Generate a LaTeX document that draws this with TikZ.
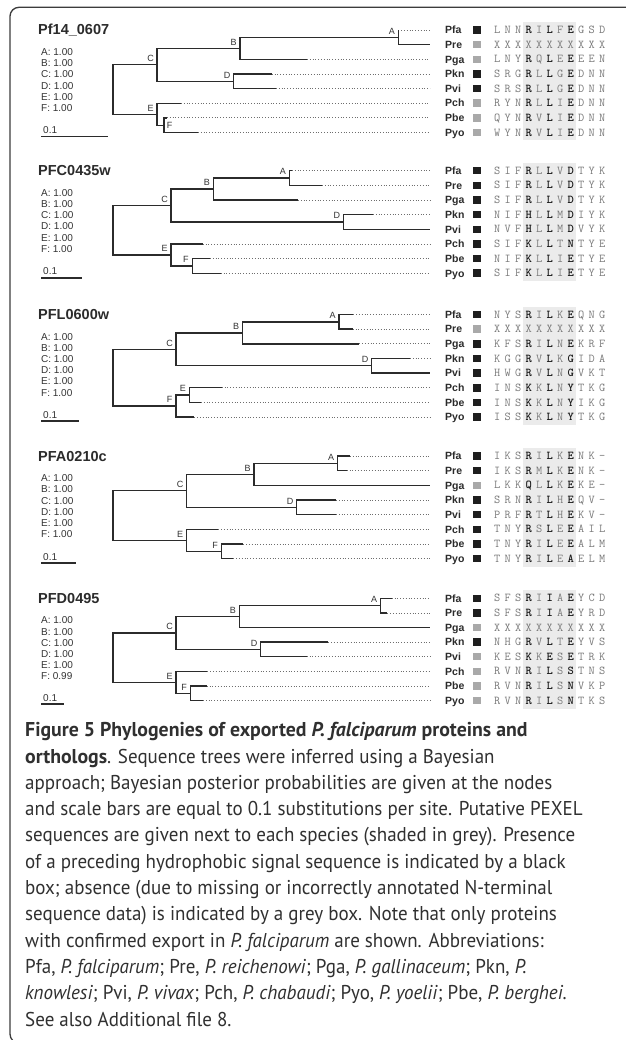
\documentclass[tikz,border=0pt]{standalone}
\usepackage{fontspec}
\newfontfamily\arialf{Liberation Sans}
\newfontfamily\capfont{PT Sans}[FakeStretch=0.95]
\newfontfamily\capfontb{PT Sans}[FakeStretch=0.99]
\definecolor{treec}{HTML}{2B2B2B}
\definecolor{dotc}{HTML}{6E6E6E}
\definecolor{labc}{HTML}{333333}
\definecolor{boxk}{HTML}{1E1E1E}
\definecolor{boxg}{HTML}{A9A9A9}
\definecolor{shadec}{HTML}{EBEBEB}
\definecolor{seqg}{HTML}{7A7A7A}
\definecolor{seqk}{HTML}{1A1A1A}
\definecolor{capc}{HTML}{303030}
\definecolor{framec}{HTML}{3C3C3C}
\tikzset{
 branch/.style={draw=treec, line width=1.4pt},
 dotl/.style={draw=dotc, line width=0.8pt, dash pattern=on 0.9pt off 1.9pt},
 clab/.style={font=\arialf\fontsize{9}{10}\selectfont, text=labc, inner sep=0pt},
 ttl/.style={font=\arialf\bfseries\fontsize{14.5}{16}\selectfont, text=treec, anchor=base west, inner sep=0pt},
 stat/.style={font=\arialf\fontsize{10}{12}\selectfont, text=labc, anchor=base west, inner sep=0pt},
 leafn/.style={font=\arialf\bfseries\fontsize{10.5}{12}\selectfont, text=treec, anchor=base west, inner sep=0pt},
 sigbox/.style={rectangle, minimum size=7.5pt, inner sep=0pt, draw=none},
 seqn/.style={font=\ttfamily\fontsize{12}{14}\selectfont, text=seqg, anchor=base, inner sep=0pt},
 seqb/.style={font=\ttfamily\bfseries\fontsize{12}{14}\selectfont, text=seqk, anchor=base, inner sep=0pt},
 scaleb/.style={draw=treec, line width=1.3pt},
 capl/.style={font=\capfont\fontsize{20}{24}\selectfont, text=capc, anchor=base west, inner sep=0pt},
 framel/.style={draw=framec, line width=1.3pt, rounded corners=9pt},
}
\newcommand\tbr[2]{\draw[branch] (#1) |- (#2);}
\newcommand\tdot[1]{\draw[dotl] (#1) -- (#1 -| xend);}
\newcommand\tlab[2]{\node[clab] (#1l) at ([shift={(-6.5,-6.2)}]#1) {#2};}
\newcommand\statblock[3]{%
 \node[stat] (#1s1) at (41,#2) {A: 1.00};
 \node[stat] (#1s2) at (41,#2+11.2) {B: 1.00};
 \node[stat] (#1s3) at (41,#2+22.4) {C: 1.00};
 \node[stat] (#1s4) at (41,#2+33.6) {D: 1.00};
 \node[stat] (#1s5) at (41,#2+44.8) {E: 1.00};
 \node[stat] (#1s6) at (41,#2+56) {F: #3};
}
\newcommand\seqrow[6]{%
 \node[leafn] (#1n) at (445,#2+3.75) {#3};
 \node[sigbox, fill=#4] (#1b) at (477.2,#2) {};
 \foreach \ch [count=\ii from 0] in {#5} {%
   \def\isb{0}%
   \ifnum#6=1 \ifodd\ii \ifnum\ii>2 \ifnum\ii<8 \def\isb{1}\fi\fi\fi\fi
   \ifnum\isb=1
     \node[seqb] (#1s\ii) at ({497.3+10.5*\ii},#2+3.65) {\ch};
   \else
     \node[seqn] (#1s\ii) at ({497.3+10.5*\ii},#2+3.65) {\ch};
   \fi
 }%
}
\begin{document}
\begin{tikzpicture}[x=1pt,y=-1pt]
\useasboundingbox (0,0) rectangle (625,1040);
\fill[white] (0,0) rectangle (625,1040);
\draw[framel] (640,7.3) -- (10,7.3) -- (10,1043) -- (640,1043);
\coordinate (xend) at (430,0);
% ================= panel 1
\node[ttl] (aTitle) at (38,35) {Pf14\_0607};
\statblock{a}{55.6}{1.00}
\node[stat] (aScl) at (43,133.5) {0.1};
\coordinate (aSb0) at (41,136.5); \coordinate (aSb1) at (108,136.5);
\draw[scaleb] (aSb0) -- (aSb1);
\fill[shadec] (523.3,22) rectangle (576.3,140.5);
\coordinate (aT1) at (398.3,30);
\coordinate (aT2) at (430,44.65);
\coordinate (aT3) at (307,59.3);
\coordinate (aT4) at (271.7,73.95);
\coordinate (aT5) at (276,88.6);
\coordinate (aT6) at (181,103.25);
\coordinate (aT7) at (167,117.9);
\coordinate (aT8) at (198,132.55);
\coordinate (aA) at (398.3,37.33);
\coordinate (aB) at (240,48.31);
\coordinate (aD) at (233.7,81.28);
\coordinate (aC) at (157,64.79);
\coordinate (aF) at (164,125.23);
\coordinate (aE) at (157,114.24);
\coordinate (aR) at (113,89.51);
\tdot{aT1}\tdot{aT3}\tdot{aT4}\tdot{aT5}\tdot{aT6}\tdot{aT7}\tdot{aT8}
\tbr{aR}{aC}\tbr{aR}{aE}\tbr{aC}{aB}\tbr{aC}{aD}\tbr{aB}{aA}\tbr{aB}{aT3}
\tbr{aA}{aT1}\tbr{aA}{aT2}\tbr{aD}{aT4}\tbr{aD}{aT5}\tbr{aE}{aT6}\tbr{aE}{aF}
\tbr{aF}{aT7}\tbr{aF}{aT8}
\tlab{aA}{A}\tlab{aB}{B}\tlab{aC}{C}\tlab{aD}{D}\tlab{aE}{E}
\node[clab] (aFl) at ([shift={(5.5,0)}]aF) {F};
\seqrow{a1}{30}{Pfa}{boxk}{L,N,N,R,I,L,F,E,G,S,D}{1}
\seqrow{a2}{44.65}{Pre}{boxg}{X,X,X,X,X,X,X,X,X,X,X}{0}
\seqrow{a3}{59.3}{Pga}{boxg}{L,N,Y,R,Q,L,E,E,E,E,N}{1}
\seqrow{a4}{73.95}{Pkn}{boxk}{S,R,G,R,L,L,G,E,D,N,N}{1}
\seqrow{a5}{88.6}{Pvi}{boxk}{S,R,S,R,L,L,G,E,D,N,N}{1}
\seqrow{a6}{103.25}{Pch}{boxg}{R,Y,N,R,L,L,I,E,D,N,N}{1}
\seqrow{a7}{117.9}{Pbe}{boxg}{Q,Y,N,R,V,L,I,E,D,N,N}{1}
\seqrow{a8}{132.55}{Pyo}{boxg}{W,Y,N,R,V,L,I,E,D,N,N}{1}
% ================= panel 2
\node[ttl] (bTitle) at (38,175.7) {PFC0435w};
\statblock{b}{196.3}{1.00}
\node[stat] (bScl) at (43,275) {0.1};
\coordinate (bSb0) at (41,278); \coordinate (bSb1) at (82,278);
\draw[scaleb] (bSb0) -- (bSb1);
\fill[shadec] (523.3,162.7) rectangle (576.3,281.25);
\coordinate (bT1) at (292,170.7);
\coordinate (bT2) at (322,185.35);
\coordinate (bT3) at (298,200);
\coordinate (bT4) at (373,214.65);
\coordinate (bT5) at (430,229.3);
\coordinate (bT6) at (202.7,243.95);
\coordinate (bT7) at (210,258.6);
\coordinate (bT8) at (220.7,273.25);
\coordinate (bA) at (289.3,178.03);
\coordinate (bB) at (213.3,189.01);
\coordinate (bD) at (343.3,221.98);
\coordinate (bC) at (171,205.49);
\coordinate (bF) at (192.3,265.93);
\coordinate (bE) at (171,254.94);
\coordinate (bR) at (113,230.22);
\tdot{bT1}\tdot{bT2}\tdot{bT3}\tdot{bT4}\tdot{bT6}\tdot{bT7}\tdot{bT8}
\tbr{bR}{bC}\tbr{bR}{bE}\tbr{bC}{bB}\tbr{bC}{bD}\tbr{bB}{bA}\tbr{bB}{bT3}
\tbr{bA}{bT1}\tbr{bA}{bT2}\tbr{bD}{bT4}\tbr{bD}{bT5}\tbr{bE}{bT6}\tbr{bE}{bF}
\tbr{bF}{bT7}\tbr{bF}{bT8}
\tlab{bA}{A}\tlab{bB}{B}\tlab{bC}{C}\tlab{bD}{D}\tlab{bE}{E}\tlab{bF}{F}
\seqrow{b1}{170.7}{Pfa}{boxk}{S,I,F,R,L,L,V,D,T,Y,K}{1}
\seqrow{b2}{185.35}{Pre}{boxk}{S,I,F,R,L,L,V,D,T,Y,K}{1}
\seqrow{b3}{200}{Pga}{boxk}{S,I,F,R,L,L,V,D,T,Y,K}{1}
\seqrow{b4}{214.65}{Pkn}{boxk}{N,I,F,H,L,L,M,D,I,Y,K}{1}
\seqrow{b5}{229.3}{Pvi}{boxk}{N,V,F,H,L,L,M,D,V,Y,K}{1}
\seqrow{b6}{243.95}{Pch}{boxk}{S,I,F,K,L,L,T,N,T,Y,E}{1}
\seqrow{b7}{258.6}{Pbe}{boxk}{N,I,F,K,L,L,I,E,T,Y,E}{1}
\seqrow{b8}{273.25}{Pyo}{boxk}{S,I,F,K,L,L,I,E,T,Y,E}{1}
% ================= panel 3
\node[ttl] (cTitle) at (38,319.5) {PFL0600w};
\statblock{c}{340.1}{1.00}
\node[stat] (cScl) at (43,418) {0.1};
\coordinate (cSb0) at (41,421); \coordinate (cSb1) at (79,421);
\draw[scaleb] (cSb0) -- (cSb1);
\fill[shadec] (523.3,306.5) rectangle (576.3,425.05);
\coordinate (cT1) at (353.3,314.5);
\coordinate (cT2) at (352.7,329.15);
\coordinate (cT3) at (359.3,343.8);
\coordinate (cT4) at (410,358.45);
\coordinate (cT5) at (430,373.1);
\coordinate (cT6) at (221.7,387.75);
\coordinate (cT7) at (201,402.4);
\coordinate (cT8) at (194.3,417.05);
\coordinate (cA) at (339,321.83);
\coordinate (cB) at (242.7,332.81);
\coordinate (cD) at (371.7,365.78);
\coordinate (cC) at (176,349.29);
\coordinate (cE) at (189.3,395.08);
\coordinate (cF) at (176,406.06);
\coordinate (cR) at (113,377.68);
\tdot{cT1}\tdot{cT2}\tdot{cT3}\tdot{cT4}\tdot{cT6}\tdot{cT7}\tdot{cT8}
\tbr{cR}{cC}\tbr{cR}{cF}\tbr{cC}{cB}\tbr{cC}{cD}\tbr{cB}{cA}\tbr{cB}{cT3}
\tbr{cA}{cT1}\tbr{cA}{cT2}\tbr{cD}{cT4}\tbr{cD}{cT5}\tbr{cF}{cE}\tbr{cF}{cT8}
\tbr{cE}{cT6}\tbr{cE}{cT7}
\tlab{cA}{A}\tlab{cB}{B}\tlab{cC}{C}\tlab{cD}{D}\tlab{cE}{E}\tlab{cF}{F}
\seqrow{c1}{314.5}{Pfa}{boxk}{N,Y,S,R,I,L,K,E,Q,N,G}{1}
\seqrow{c2}{329.15}{Pre}{boxg}{X,X,X,X,X,X,X,X,X,X,X}{0}
\seqrow{c3}{343.8}{Pga}{boxk}{K,F,S,R,I,L,N,E,K,R,F}{1}
\seqrow{c4}{358.45}{Pkn}{boxk}{K,G,G,R,V,L,K,G,I,D,A}{1}
\seqrow{c5}{373.1}{Pvi}{boxk}{H,W,G,R,V,L,N,G,V,K,T}{1}
\seqrow{c6}{387.75}{Pch}{boxk}{I,N,S,K,K,L,N,Y,T,K,G}{1}
\seqrow{c7}{402.4}{Pbe}{boxk}{I,N,S,K,K,L,N,Y,I,K,G}{1}
\seqrow{c8}{417.05}{Pyo}{boxk}{I,S,S,K,K,L,N,Y,T,K,G}{1}
% ================= panel 4
\node[ttl] (dTitle) at (38,461) {PFA0210c};
\statblock{d}{481.6}{1.00}
\node[stat] (dScl) at (43,560) {0.1};
\coordinate (dSb0) at (41,563); \coordinate (dSb1) at (76,563);
\draw[scaleb] (dSb0) -- (dSb1);
\fill[shadec] (523.3,448) rectangle (576.3,566.55);
\coordinate (dT1) at (350,456);
\coordinate (dT2) at (346.7,470.65);
\coordinate (dT3) at (430,485.3);
\coordinate (dT4) at (336,499.95);
\coordinate (dT5) at (336,514.6);
\coordinate (dT6) at (218.3,529.25);
\coordinate (dT7) at (243.3,543.9);
\coordinate (dT8) at (233.3,558.55);
\coordinate (dA) at (337.7,463.33);
\coordinate (dB) at (254,474.31);
\coordinate (dD) at (296.7,507.28);
\coordinate (dC) at (186.7,490.79);
\coordinate (dF) at (221.7,551.23);
\coordinate (dE) at (186.7,540.24);
\coordinate (dR) at (113,515.52);
\tdot{dT1}\tdot{dT2}\tdot{dT4}\tdot{dT5}\tdot{dT6}\tdot{dT7}\tdot{dT8}
\tbr{dR}{dC}\tbr{dR}{dE}\tbr{dC}{dB}\tbr{dC}{dD}\tbr{dB}{dA}\tbr{dB}{dT3}
\tbr{dA}{dT1}\tbr{dA}{dT2}\tbr{dD}{dT4}\tbr{dD}{dT5}\tbr{dE}{dT6}\tbr{dE}{dF}
\tbr{dF}{dT7}\tbr{dF}{dT8}
\tlab{dA}{A}\tlab{dB}{B}\tlab{dC}{C}\tlab{dD}{D}\tlab{dE}{E}\tlab{dF}{F}
\seqrow{d1}{456}{Pfa}{boxk}{I,K,S,R,I,L,K,E,N,K,-}{1}
\seqrow{d2}{470.65}{Pre}{boxk}{I,K,S,R,M,L,K,E,N,K,-}{1}
\seqrow{d3}{485.3}{Pga}{boxg}{L,K,K,Q,L,L,K,E,K,E,-}{1}
\seqrow{d4}{499.95}{Pkn}{boxk}{S,R,N,R,I,L,H,E,Q,V,-}{1}
\seqrow{d5}{514.6}{Pvi}{boxk}{P,R,F,R,T,L,H,E,K,V,-}{1}
\seqrow{d6}{529.25}{Pch}{boxk}{T,N,Y,R,S,L,E,E,A,I,L}{1}
\seqrow{d7}{543.9}{Pbe}{boxk}{T,N,Y,R,I,L,E,E,A,L,M}{1}
\seqrow{d8}{558.55}{Pyo}{boxk}{T,N,Y,R,I,L,E,A,E,L,M}{1}
% ================= panel 5
\node[ttl] (eTitle) at (38,603.3) {PFD0495};
\statblock{e}{623.9}{0.99}
\node[stat] (eScl) at (43,701) {0.1};
\coordinate (eSb0) at (41,704); \coordinate (eSb1) at (64,704);
\draw[scaleb] (eSb0) -- (eSb1);
\fill[shadec] (523.3,590.3) rectangle (576.3,708.5);
\coordinate (eT1) at (391.7,598.3);
\coordinate (eT2) at (387.3,612.9);
\coordinate (eT3) at (430,627.5);
\coordinate (eT4) at (328.3,642.1);
\coordinate (eT5) at (306.7,656.7);
\coordinate (eT6) at (207.3,671.3);
\coordinate (eT7) at (206.7,685.9);
\coordinate (eT8) at (203,700.5);
\coordinate (eA) at (380.7,605.6);
\coordinate (eB) at (239.3,616.55);
\coordinate (eD) at (260.7,649.4);
\coordinate (eC) at (176,632.98);
\coordinate (eF) at (190.7,693.2);
\coordinate (eE) at (176,682.25);
\coordinate (eR) at (113,657.61);
\tdot{eT1}\tdot{eT2}\tdot{eT4}\tdot{eT5}\tdot{eT6}\tdot{eT7}\tdot{eT8}
\tbr{eR}{eC}\tbr{eR}{eE}\tbr{eC}{eB}\tbr{eC}{eD}\tbr{eB}{eA}\tbr{eB}{eT3}
\tbr{eA}{eT1}\tbr{eA}{eT2}\tbr{eD}{eT4}\tbr{eD}{eT5}\tbr{eE}{eT6}\tbr{eE}{eF}
\tbr{eF}{eT7}\tbr{eF}{eT8}
\tlab{eA}{A}\tlab{eB}{B}\tlab{eC}{C}\tlab{eD}{D}\tlab{eE}{E}\tlab{eF}{F}
\seqrow{e1}{598.3}{Pfa}{boxk}{S,F,S,R,I,I,A,E,Y,C,D}{1}
\seqrow{e2}{612.9}{Pre}{boxk}{S,F,S,R,I,I,A,E,Y,R,D}{1}
\seqrow{e3}{627.5}{Pga}{boxg}{X,X,X,X,X,X,X,X,X,X,X}{0}
\seqrow{e4}{642.1}{Pkn}{boxk}{N,H,G,R,V,L,T,E,Y,V,S}{1}
\seqrow{e5}{656.7}{Pvi}{boxg}{K,E,S,K,K,E,S,E,T,R,K}{1}
\seqrow{e6}{671.3}{Pch}{boxg}{R,V,N,R,I,L,S,S,T,N,S}{1}
\seqrow{e7}{685.9}{Pbe}{boxg}{R,V,N,R,I,L,S,N,V,K,P}{1}
\seqrow{e8}{700.5}{Pyo}{boxg}{R,V,N,R,I,L,S,N,T,K,S}{1}
% ================= caption
\node[capl] (cap1) at (25,736.7) {\capfontb\bfseries Figure 5 Phylogenies of exported \textit{P. falciparum} proteins and};
\node[capl] (cap2) at (25,763.0) {{\capfontb\bfseries orthologs}. Sequence trees were inferred using a Bayesian};
\node[capl] (cap3) at (25,789.3) {approach; Bayesian posterior probabilities are given at the nodes};
\node[capl] (cap4) at (25,815.6) {and scale bars are equal to 0.1 substitutions per site. Putative PEXEL};
\node[capl] (cap5) at (25,841.9) {sequences are given next to each species (shaded in grey). Presence};
\node[capl] (cap6) at (25,868.2) {of a preceding hydrophobic signal sequence is indicated by a black};
\node[capl] (cap7) at (25,894.5) {box; absence (due to missing or incorrectly annotated N-terminal};
\node[capl] (cap8) at (25,920.8) {sequence data) is indicated by a grey box. Note that only proteins};
\node[capl] (cap9) at (25,947.1) {with confirmed export in \textit{P. falciparum} are shown. Abbreviations:};
\node[capl] (cap10) at (25,973.4) {Pfa, \textit{P. falciparum}; Pre, \textit{P. reichenowi}; Pga, \textit{P. gallinaceum}; Pkn, \textit{P.}};
\node[capl] (cap11) at (25,999.7) {\textit{knowlesi}; Pvi, \textit{P. vivax}; Pch, \textit{P. chabaudi}; Pyo, \textit{P. yoelii}; Pbe, \textit{P. berghei}.};
\node[capl] (cap12) at (25,1026.0) {See also Additional file 8.};
\end{tikzpicture}
\end{document}
